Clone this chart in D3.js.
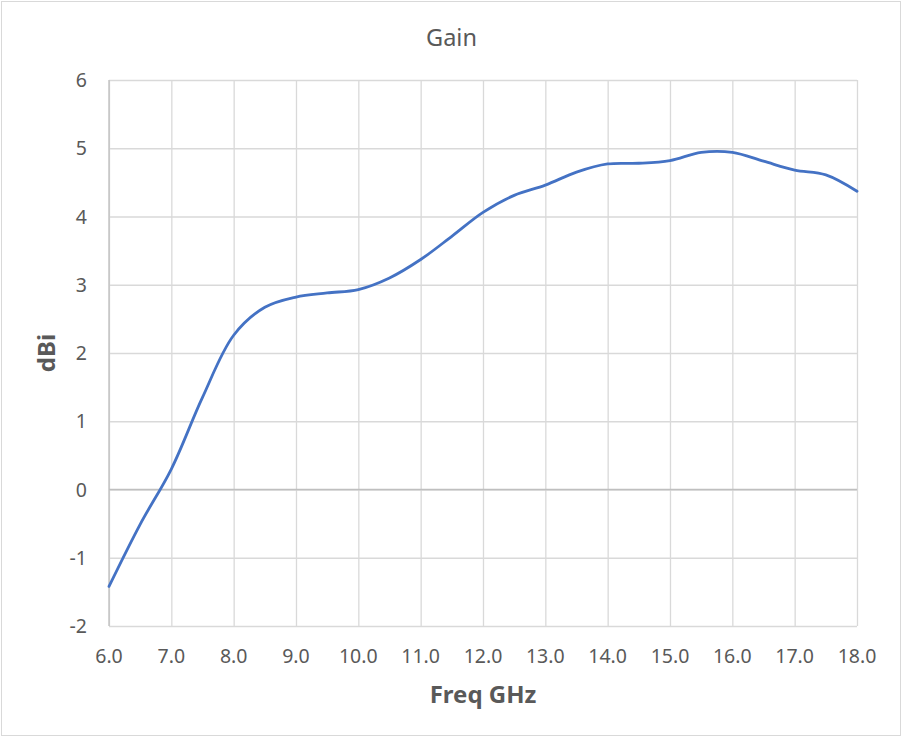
<!DOCTYPE html>
<html>
<head>
<meta charset="utf-8">
<script src="https://cdn.jsdelivr.net/npm/d3@7"></script>
<style>
  body { margin: 0; background: #fff; }
  text { font-family: "Noto Sans", "Open Sans", sans-serif; fill: #595959; }
</style>
</head>
<body>
<div id="chart"></div>
<script>
// frequency (GHz) and gain (dBi)
const freq = [6.0, 6.5, 7.0, 7.5, 8.0, 8.5, 9.0, 9.5, 10.0, 10.5, 11.0, 11.5, 12.0,
              12.5, 13.0, 13.5, 14.0, 14.5, 15.0, 15.5, 16.0, 16.5, 17.0, 17.5, 18.0];
const gain = [-1.42, -0.51, 0.30, 1.35, 2.26, 2.67, 2.82, 2.88, 2.93, 3.10, 3.37, 3.71, 4.06,
              4.31, 4.46, 4.65, 4.77, 4.78, 4.82, 4.94, 4.94, 4.81, 4.68, 4.61, 4.37];
const xTicks = [6, 7, 8, 9, 10, 11, 12, 13, 14, 15, 16, 17, 18];
const yTicks = [-2, -1, 0, 1, 2, 3, 4, 5, 6];

const width = 903, height = 737;
const margin = { top: 80, right: 46, bottom: 111, left: 109 };
const plotW = width - margin.left - margin.right;
const plotH = height - margin.top - margin.bottom;

const svg = d3.select('#chart').append('svg')
    .attr('width', width)
    .attr('height', height);

// chart border
svg.append('rect')
    .attr('x', 1.5).attr('y', 1.5)
    .attr('width', width - 4).attr('height', height - 3)
    .attr('fill', '#fff')
    .attr('stroke', '#d9d9d9')
    .attr('stroke-width', 1);

const x = d3.scaleLinear().domain([6, 18]).range([0, plotW]);
const y = d3.scaleLinear().domain([-2, 6]).range([plotH, 0]);

const g = svg.append('g')
    .attr('transform', `translate(${margin.left},${margin.top})`);

// gridlines
g.append('g')
    .call(d3.axisBottom(x).tickValues(xTicks).tickSize(-plotH).tickFormat(''))
    .attr('transform', `translate(0,${plotH})`)
    .call(a => a.select('.domain').remove())
    .selectAll('line').attr('stroke', '#d9d9d9').attr('stroke-width', 1.3);

g.append('g')
    .call(d3.axisLeft(y).tickValues(yTicks).tickSize(-plotW).tickFormat(''))
    .call(a => a.select('.domain').remove())
    .selectAll('line').attr('stroke', '#d9d9d9').attr('stroke-width', 1.3);

// axis lines
g.append('line')
    .attr('x1', 0).attr('x2', plotW)
    .attr('y1', y(0)).attr('y2', y(0))
    .attr('stroke', '#bfbfbf').attr('stroke-width', 1.3);
g.append('line')
    .attr('x1', 0).attr('x2', 0)
    .attr('y1', 0).attr('y2', plotH)
    .attr('stroke', '#bfbfbf').attr('stroke-width', 1.3);

// tick labels
g.selectAll('.xlab')
    .data(xTicks)
    .join('text')
    .attr('class', 'xlab')
    .attr('x', d => x(d))
    .attr('y', plotH + 37)
    .attr('text-anchor', 'middle')
    .style('font-size', '19.5px')
    .text(d => d3.format('.1f')(d));

g.selectAll('.ylab')
    .data(yTicks)
    .join('text')
    .attr('class', 'ylab')
    .attr('x', -22)
    .attr('y', d => y(d) + 7)
    .attr('text-anchor', 'end')
    .style('font-size', '19.5px')
    .text(d => d);

// the gain curve
const points = freq.map((f, i) => [f, gain[i]]);
const line = d3.line()
    .x(d => x(d[0]))
    .y(d => y(d[1]))
    .curve(d3.curveCatmullRom.alpha(0.5));

g.append('path')
    .datum(points)
    .attr('fill', 'none')
    .attr('stroke', '#4472c4')
    .attr('stroke-width', 2.8)
    .attr('stroke-linecap', 'round')
    .attr('d', line);

// titles
svg.append('text')
    .attr('x', width / 2)
    .attr('y', 46)
    .attr('text-anchor', 'middle')
    .style('font-size', '23.5px')
    .text('Gain');

svg.append('text')
    .attr('x', margin.left + plotW / 2)
    .attr('y', 703)
    .attr('text-anchor', 'middle')
    .style('font-size', '24px')
    .style('font-weight', 'bold')
    .text('Freq GHz');

svg.append('text')
    .attr('transform', `translate(55,${margin.top + plotH / 2}) rotate(-90)`)
    .attr('text-anchor', 'middle')
    .style('font-size', '24px')
    .style('font-weight', 'bold')
    .text('dBi');
</script>
</body>
</html>
